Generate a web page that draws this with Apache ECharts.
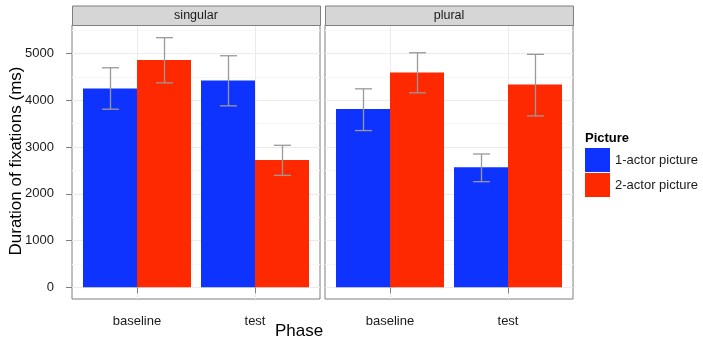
<!DOCTYPE html>
<html>
<head>
<meta charset="utf-8">
<script src="https://cdn.jsdelivr.net/npm/echarts@6/dist/echarts.min.js"></script>
<style>
html,body{margin:0;padding:0;background:#fff;}
#chart{width:703px;height:340px;}
</style>
</head>
<body>
<div id="chart"></div>
<script>
// ---- data ----
var phases = ['baseline', 'test'];
var facets = ['singular', 'plural'];
var seriesNames = ['1-actor picture', '2-actor picture'];
// means: [facet][phase]
var oneActorMean = [[4251, 4423], [3814, 2565]];
var twoActorMean = [[4858, 2721], [4594, 4337]];
var oneActorLow  = [[3808, 3879], [3351, 2258]];
var oneActorHigh = [[4693, 4950], [4243, 2850]];
var twoActorLow  = [[4371, 2393], [4157, 3664]];
var twoActorHigh = [[5336, 3036], [5014, 4980]];
var yTicks = [0, 1000, 2000, 3000, 4000, 5000];
var yMinorTicks = [500, 1500, 2500, 3500, 4500, 5500];

var FONT = 'Liberation Sans, Arial, Helvetica, sans-serif';
var BLUE = '#0F33FF';
var RED = '#FF2900';
var GREY50 = '#7F7F7F';

var chart = echarts.init(document.getElementById('chart'));

var grids = [
  {left: 72, top: 25, width: 248, height: 274},
  {left: 325, top: 25, width: 248, height: 274}
];

var xAxes = [], yAxes = [], series = [], graphics = [];
var BARW = 54, HALF = 27, CAP = 8.5;
var XMIN = 0.4492, XMAX = 2.5508;

grids.forEach(function (g, i) {
  g.show = true;
  g.borderColor = GREY50;
  g.borderWidth = 1;
  g.backgroundColor = '#fff';
  g.containLabel = false;
  xAxes.push({
    type: 'value', gridIndex: i, min: XMIN, max: XMAX,
    axisLine: {show: false},
    axisTick: {show: true, length: 6, customValues: [1, 2], lineStyle: {color: GREY50, width: 1}},
    axisLabel: {show: true, customValues: [1, 2], margin: 16,
      formatter: function (v) { return phases[Math.round(v) - 1] || ''; },
      fontFamily: FONT, fontSize: 13, color: '#1a1a1a'},
    splitLine: {show: true, lineStyle: {color: '#EBEBEB', width: 1}}
  });
  yAxes.push({
    type: 'value', gridIndex: i, min: -249, max: 5607,
    axisLine: {show: false},
    axisTick: {show: i === 0, length: 6, customValues: yTicks, lineStyle: {color: GREY50, width: 1}},
    axisLabel: {show: i === 0, customValues: yTicks, margin: 18,
      formatter: function (v) { return String(v); },
      fontFamily: FONT, fontSize: 13, color: '#1a1a1a'},
    splitLine: {show: true, lineStyle: {color: '#EBEBEB', width: 1}}
  });
});
// minor y axes (gridlines only)
grids.forEach(function (g, i) {
  yAxes.push({
    type: 'value', gridIndex: i, min: -249, max: 5607, position: 'right',
    axisLine: {show: false},
    axisTick: {show: false, customValues: yMinorTicks},
    axisLabel: {show: false, customValues: yMinorTicks},
    splitLine: {show: true, lineStyle: {color: '#F7F7F7', width: 1}}
  });
});

function errRender(sign) {
  return function (params, api) {
    var x = api.value(0), lo = api.value(1), hi = api.value(2);
    var pTop = api.coord([x, hi]);
    var pBot = api.coord([x, lo]);
    var cx = Math.round(pTop[0] + sign * HALF) + 0.5;
    var style = {stroke: '#999999', lineWidth: 1.3, fill: null};
    return {
      type: 'group',
      children: [
        {type: 'line', shape: {x1: cx, y1: pTop[1], x2: cx, y2: pBot[1]}, style: style},
        {type: 'line', shape: {x1: cx - CAP, y1: pTop[1], x2: cx + CAP, y2: pTop[1]}, style: style},
        {type: 'line', shape: {x1: cx - CAP, y1: pBot[1], x2: cx + CAP, y2: pBot[1]}, style: style}
      ]
    };
  };
}

for (var f = 0; f < 2; f++) {
  series.push({
    name: seriesNames[0], type: 'bar', xAxisIndex: f, yAxisIndex: f,
    barWidth: BARW, barGap: '0%', itemStyle: {color: BLUE},
    data: [[1, oneActorMean[f][0]], [2, oneActorMean[f][1]]], z: 3
  });
  series.push({
    name: seriesNames[1], type: 'bar', xAxisIndex: f, yAxisIndex: f,
    barWidth: BARW, barGap: '0%', itemStyle: {color: RED},
    data: [[1, twoActorMean[f][0]], [2, twoActorMean[f][1]]], z: 3
  });
  series.push({
    type: 'custom', xAxisIndex: f, yAxisIndex: f, z: 5,
    renderItem: errRender(-1),
    data: [[1, oneActorLow[f][0], oneActorHigh[f][0]], [2, oneActorLow[f][1], oneActorHigh[f][1]]]
  });
  series.push({
    type: 'custom', xAxisIndex: f, yAxisIndex: f, z: 5,
    renderItem: errRender(1),
    data: [[1, twoActorLow[f][0], twoActorHigh[f][0]], [2, twoActorLow[f][1], twoActorHigh[f][1]]]
  });
}

// strips
grids.forEach(function (g, i) {
  graphics.push({
    type: 'rect', left: g.left, top: 5.5, z: 10,
    shape: {x: 0, y: 0, width: g.width, height: 19.5},
    style: {fill: '#D6D6D6', stroke: GREY50, lineWidth: 1}
  });
  graphics.push({
    type: 'text', z: 11,
    x: g.left + g.width / 2, y: 15.5,
    style: {text: facets[i], fontFamily: FONT, fontSize: 12.5, fill: '#1a1a1a',
      align: 'center', verticalAlign: 'middle'}
  });
});
graphics.push({
  type: 'text', x: 16, y: 161, rotation: Math.PI / 2,
  style: {text: 'Duration of fixations (ms)', fontFamily: FONT, fontSize: 17, fill: '#000',
    align: 'center', verticalAlign: 'middle'}
});
graphics.push({
  type: 'text', x: 299, y: 331,
  style: {text: 'Phase', fontFamily: FONT, fontSize: 17, fill: '#000',
    align: 'center', verticalAlign: 'middle'}
});
graphics.push({
  type: 'text', x: 585, y: 138,
  style: {text: 'Picture', fontFamily: FONT, fontSize: 13, fontWeight: 'bold', fill: '#000',
    align: 'left', verticalAlign: 'middle'}
});

chart.setOption({
  animation: false,
  backgroundColor: '#fff',
  grid: grids,
  xAxis: xAxes,
  yAxis: yAxes,
  series: series,
  legend: {
    data: seriesNames, orient: 'vertical', left: 585, top: 148,
    itemWidth: 25, itemHeight: 24, itemGap: 1, icon: 'rect',
    padding: 0,
    textStyle: {fontFamily: FONT, fontSize: 13, color: '#1a1a1a'},
    selectedMode: false
  },
  graphic: graphics
});
</script>
</body>
</html>
